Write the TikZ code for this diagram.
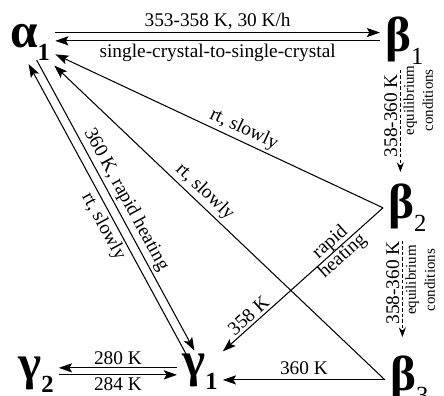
\documentclass[tikz,border=0pt]{standalone}
\usepackage{fontspec}
\setmainfont{Liberation Serif}
\usetikzlibrary{arrows.meta, calc}
\tikzset{
  every picture/.style={line width=0.6pt},
  phase/.style={inner sep=0pt, outer sep=3pt, anchor=base west},
  arr/.style={-{Stealth[length=7.5pt, width=5.2pt, inset=1.5pt]}},
  eqarr/.style={dash pattern=on 2pt off 1.2pt, -{Stealth[length=5.5pt, width=4pt]}},
  lbl/.style={font=\fontsize{11}{10.5}\selectfont, inner sep=1.5pt},
  small/.style={font=\fontsize{8.5}{10.8}\selectfont, align=center, inner sep=1.5pt},
}
\newcommand\phase[2]{{\fontsize{28}{28}\selectfont\bfseries #1}\raisebox{-7pt}{\fontsize{14}{14}\selectfont #2}}

\begin{document}
\begin{tikzpicture}[x=0.02cm, y=0.02cm]
  \useasboundingbox (0,0) rectangle (444,396);
  % phases
  \node[phase] (a1) at (5,348) {\phase{α}{\textbf{1}}};
  \node[phase] (b1) at (380,344) {\phase{β}{1}};
  \node[phase] (b2) at (383,177) {\phase{β}{2}};
  \node[phase] (b3) at (385,5) {\phase{β}{3}};
  \node[phase] (g1) at (177,19) {\phase{γ}{\textbf{1}}};
  \node[phase] (g2) at (13,16) {\phase{γ}{\textbf{2}}};
  % alpha1 <-> beta1
  \draw[arr] ($(a1.east)+(0,10)$) -- ($(a1.east -| b1.west)+(0,10)$) node[lbl, midway, above] {353-358 K, 30 K/h};
  \draw[arr] (b1.west) -- (b1.west -| a1.east) node[lbl, midway, below] {single-crystal-to-single-crystal};
  % equilibrium steps
  \draw[eqarr] ($(b1.south)+(-4,0)$) -- ($(b1.south |- b2.north)+(-4,7)$)
    node[lbl, pos=0.45, rotate=90, anchor=south] {358-360 K}
    node[small, pos=0.3, rotate=90, anchor=north] {equilibrium\\conditions};
  \draw[eqarr] ($(b2.south)+(-5,-4)$) -- ($(b2.south |- b3.north)+(-5,14)$)
    node[lbl, pos=0.44, rotate=90, anchor=south] {358-360 K}
    node[small, pos=0.41, rotate=90, anchor=north] {equilibrium\\conditions};
  % back to alpha1
  \draw[arr] (b2.west) -- (a1) node[lbl, pos=0.44, sloped, above] {rt, slowly};
  \draw[arr] (b3.west) -- (a1) node[lbl, pos=0.57, sloped, above] {rt, slowly};
  % to gamma1
  \draw[arr] (b2.west) -- (g1) node[lbl, pos=0.29, sloped, align=center, inner sep=0pt] {rapid\\heating}
    node[lbl, pos=0.8, sloped, above] {358 K};
  \draw[arr] (b3.west) -- (b3.west -| g1.east) node[lbl, midway, above=1pt] {360 K};
  \draw[arr] ($(a1.south)+(6.5,5.5)$) -- ($(g1.north)+(-5.5,-1.5)$) node[lbl, midway, sloped, above] {360 K, rapid heating};
  \draw[arr] ($(g1.north)+(-13.5,-5.5)$) -- ($(a1.south)+(-1.5,1.5)$) node[lbl, pos=0.46, sloped, below] {rt, slowly};
  % gamma1 <-> gamma2
  \draw[arr] ($(g1.west)+(0,4)$) -- ($(g1.west -| g2.east)+(0,4)$) node[lbl, midway, above] {280 K};
  \draw[arr] ($(g1.west -| g2.east)+(0,-3)$) -- ($(g1.west)+(0,-3)$) node[lbl, midway, below] {284 K};
\end{tikzpicture}
\end{document}
